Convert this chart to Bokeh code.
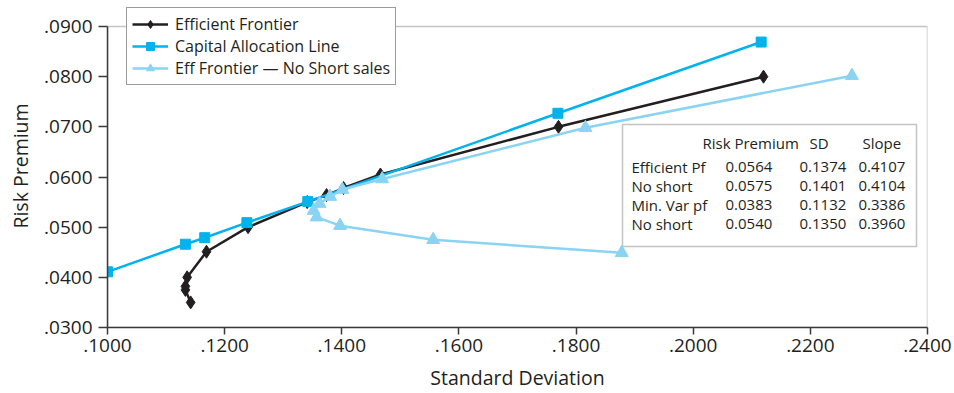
from bokeh.plotting import figure
from bokeh.models import (Range1d, FixedTicker, Legend, LegendItem, BoxAnnotation,
                          ColumnDataSource)
from bokeh.embed import file_html
from bokeh.resources import INLINE
from bokeh.core.properties import value

# ---------------- data ----------------
ef_sd = [0.1142, 0.1133, 0.1133, 0.1136, 0.1169, 0.1240, 0.1341, 0.1374, 0.1403, 0.1466, 0.1770, 0.2120]
ef_rp = [0.0350, 0.0375, 0.0382, 0.0400, 0.0451, 0.0500, 0.0550, 0.0564, 0.0578, 0.0605, 0.0700, 0.0800]

cal_sd = [0.1000, 0.1133, 0.1166, 0.1238, 0.1342, 0.1769, 0.2116]
cal_rp = [0.0411, 0.0466, 0.0479, 0.0509, 0.0551, 0.0727, 0.0869]

ns_sd = [0.1878, 0.1556, 0.1397, 0.1357, 0.1352, 0.1362, 0.1380, 0.1401, 0.1469, 0.1816, 0.2271]
ns_rp = [0.0449, 0.0475, 0.0503, 0.0520, 0.0533, 0.0547, 0.0561, 0.0575, 0.0596, 0.0698, 0.0802]

x_ticks = [0.10, 0.12, 0.14, 0.16, 0.18, 0.20, 0.22, 0.24]
x_labels = [".1000", ".1200", ".1400", ".1600", ".1800", ".2000", ".2200", ".2400"]
y_ticks = [0.03, 0.04, 0.05, 0.06, 0.07, 0.08, 0.09]
y_labels = [".0300", ".0400", ".0500", ".0600", ".0700", ".0800", ".0900"]

series_names = ["Efficient Frontier", "Capital Allocation Line", "Eff Frontier \u2014 No Short sales"]

table_header = ["Risk Premium", "SD", "Slope"]
table_rows = ["Efficient Pf", "No short", "Min. Var pf", "No short"]
table_rp = ["0.0564", "0.0575", "0.0383", "0.0540"]
table_sd = ["0.1374", "0.1401", "0.1132", "0.1350"]
table_slope = ["0.4107", "0.4104", "0.3386", "0.3960"]

# ---------------- style ----------------
FONT = "Open Sans"
TXT = "#231f20"
BLACK = "#231f20"
CYAN = "#00b3ec"
LIGHT = "#8ad3f3"
FRAME = "#3a3a3a"

X0, X1, Y0, Y1 = 0.10, 0.24, 0.03, 0.09
L, R, T, B = 107, 927, 26, 327   # pixel box of the plotted data range
TOP = 4                           # frame extends up so the legend can overhang

PX = (X1 - X0) / (R - L)
PY = (Y1 - Y0) / (B - T)


def sx(px):
    return X0 + (px - L) * PX


def sy(py):
    return Y0 + (B - py) * PY


p = figure(width=954, height=393, x_range=Range1d(X0, X1),
           y_range=Range1d(Y0, Y1 + (T - TOP) * PY),
           output_backend="svg", toolbar_location=None,
           min_border_left=L, min_border_right=954 - R, min_border_top=TOP,
           min_border_bottom=393 - B)
p.grid.visible = False
p.outline_line_color = None
p.background_fill_color = "white"
p.border_fill_color = "white"

for ax, ticks, labels, bnds in ((p.xaxis[0], x_ticks, x_labels, (X0, X1)),
                                (p.yaxis[0], y_ticks, y_labels, (Y0, Y1))):
    ax.ticker = FixedTicker(ticks=ticks)
    ax.bounds = bnds
    ax.major_label_overrides = {t: s for t, s in zip(ticks, labels)}
    ax.minor_tick_line_color = None
    ax.major_tick_in = 0
    ax.axis_line_color = FRAME
    ax.axis_line_width = 1.5
    ax.major_tick_line_color = FRAME
    ax.major_tick_line_width = 1.5
    ax.major_label_text_font = FONT
    ax.major_label_text_font_size = "19px"
    ax.major_label_text_color = TXT
    ax.axis_label_text_font = FONT
    ax.axis_label_text_font_size = "19.5px"
    ax.axis_label_text_font_style = "normal"
    ax.axis_label_text_color = TXT

p.xaxis.major_tick_out = 7
p.yaxis.major_tick_out = 9
p.xaxis.major_label_standoff = 4
p.yaxis.major_label_standoff = 6
p.xaxis.axis_label = "Standard Deviation"
p.yaxis.axis_label = "Risk Premium"
p.xaxis.axis_label_standoff = 9
p.yaxis.axis_label_standoff = 7

# plot frame (data range box)
p.add_layout(BoxAnnotation(left=X0, right=X1, top=Y1, bottom=Y0, fill_color="white",
                           fill_alpha=1, line_color=FRAME, line_width=1.5, level="underlay"))

# series
ef_line = p.line(ef_sd, ef_rp, line_color=BLACK, line_width=2.5)
ef_pts = p.scatter(ef_sd, ef_rp, marker="diamond", size=13, fill_color=BLACK, line_color=BLACK)
cal_line = p.line(cal_sd, cal_rp, line_color=CYAN, line_width=2.5)
cal_pts = p.scatter(cal_sd, cal_rp, marker="square", size=10, fill_color=CYAN, line_color=CYAN)
ns_line = p.line(ns_sd, ns_rp, line_color=LIGHT, line_width=2.5)
ns_pts = p.scatter(ns_sd, ns_rp, marker="triangle", size=13, fill_color=LIGHT, line_color=LIGHT)

legend = Legend(items=[LegendItem(label=series_names[0], renderers=[ef_line, ef_pts]),
                       LegendItem(label=series_names[1], renderers=[cal_line, cal_pts]),
                       LegendItem(label=series_names[2], renderers=[ns_line, ns_pts])],
                location=(19, B - 85))
legend.label_text_font = FONT
legend.label_text_font_size = "16px"
legend.label_text_color = TXT
legend.border_line_color = FRAME
legend.border_line_width = 1.5
legend.padding = 5
legend.spacing = 0
legend.margin = 0
legend.glyph_width = 36
legend.glyph_height = 20
legend.label_height = 20
legend.label_standoff = 7
legend.background_fill_alpha = 1
p.add_layout(legend)

# table box
p.add_layout(BoxAnnotation(left=sx(622), right=sx(916), top=sy(124), bottom=sy(246),
                           fill_color="white", fill_alpha=1, line_color=FRAME, line_width=1.5,
                           level="underlay"))

row_y = [166, 185, 204, 223]
tx, ty, tt = [], [], []
for s, px in zip(table_header, [702, 809, 862]):
    tx.append(sx(px)); ty.append(sy(142)); tt.append(s)
for i in range(4):
    for s, px in zip([table_rows[i], table_rp[i], table_sd[i], table_slope[i]], [631, 725, 799, 858]):
        tx.append(sx(px)); ty.append(sy(row_y[i])); tt.append(s)
p.text(x="x", y="y", text="text", source=ColumnDataSource(dict(x=tx, y=ty, text=tt)),
       text_font=value(FONT), text_font_size="15px", text_color=TXT,
       text_align="left", text_baseline="middle")

open("out.html", "w").write(file_html(p, INLINE))
